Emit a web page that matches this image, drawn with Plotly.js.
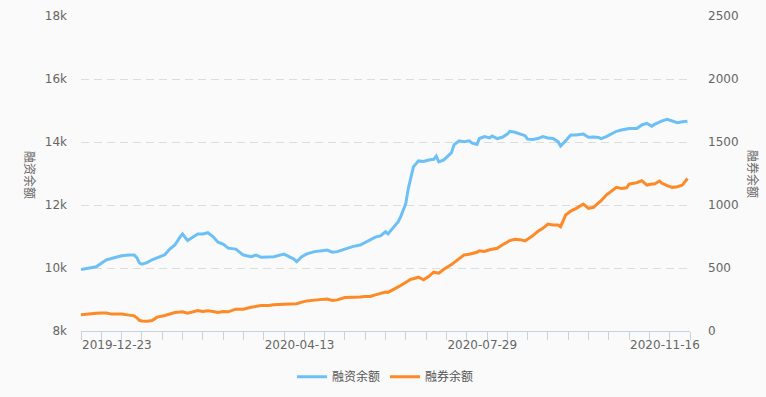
<!DOCTYPE html>
<html><head><meta charset="utf-8">
<script src="https://cdn.plot.ly/plotly-3.0.1.min.js"></script>
<style>html,body{margin:0;padding:0;background:#fafafa;} #chart{width:766px;height:397px;}</style>
</head><body><div id="chart"></div>
<script>
// sampled trading dates
const dates = [
'2019-12-23','2019-12-26','2019-12-31','2020-01-03','2020-01-07','2020-01-09','2020-01-15','2020-01-20','2020-01-22','2020-01-23',
'2020-02-03','2020-02-04','2020-02-06','2020-02-10','2020-02-12','2020-02-17','2020-02-19','2020-02-21','2020-02-25','2020-02-26',
'2020-02-28','2020-03-03','2020-03-05','2020-03-09','2020-03-11','2020-03-13','2020-03-17','2020-03-19','2020-03-23','2020-03-26',
'2020-03-31','2020-04-03','2020-04-08','2020-04-10','2020-04-15','2020-04-17','2020-04-23','2020-04-27','2020-04-29','2020-04-30',
'2020-05-07','2020-05-11','2020-05-14','2020-05-19','2020-05-21','2020-05-25','2020-05-27','2020-06-01','2020-06-04','2020-06-09',
'2020-06-11','2020-06-15','2020-06-17','2020-06-19','2020-06-23','2020-06-24','2020-06-30','2020-07-02','2020-07-03','2020-07-07',
'2020-07-08','2020-07-09','2020-07-10','2020-07-14','2020-07-16','2020-07-20','2020-07-22','2020-07-23','2020-07-24','2020-07-28',
'2020-07-30','2020-07-31','2020-08-03','2020-08-05','2020-08-07','2020-08-11','2020-08-12','2020-08-14','2020-08-17','2020-08-19',
'2020-08-21','2020-08-24','2020-08-26','2020-08-28','2020-09-01','2020-09-02','2020-09-04','2020-09-08','2020-09-10','2020-09-11',
'2020-09-15','2020-09-17','2020-09-21','2020-09-23','2020-09-25','2020-09-29','2020-09-30','2020-10-12','2020-10-14','2020-10-16',
'2020-10-20','2020-10-21','2020-10-23','2020-10-27','2020-10-29','2020-10-30','2020-11-03','2020-11-05','2020-11-09','2020-11-11',
'2020-11-13','2020-11-16','2020-11-19','2020-11-23','2020-11-25','2020-11-27','2020-11-30','2020-12-02','2020-12-03','2020-12-07',
'2020-12-09','2020-12-11','2020-12-15','2020-12-17'];
// 融资余额
const rzValues = [
9950,9990,10040,10150,10260,10300,10390,10410,10410,10330,
10160,10120,10170,10260,10330,10420,10600,10730,10980,11080,
10870,10980,11080,11080,11120,11000,10820,10760,10630,10600,
10410,10360,10410,10340,10360,10360,10440,10360,10280,10200,
10360,10450,10520,10550,10570,10500,10520,10600,10680,10730,
10810,10890,10980,11020,11150,11080,11260,11470,11630,12050,
12530,12850,13210,13400,13380,13430,13450,13550,13370,13430,
13580,13660,13910,14040,14010,14040,13970,13920,14110,14170,
14130,14190,14110,14150,14250,14340,14310,14250,14200,14090,
14080,14110,14170,14130,14110,14010,13870,14040,14220,14220,
14250,14250,14150,14160,14140,14110,14170,14250,14340,14380,
14400,14430,14430,14540,14590,14500,14560,14640,14670,14720,
14670,14610,14640,14660];
// 融券余额
const rqValues = [
128,136,141,142,142,134,134,126,120,105,
85,80,78,83,110,123,136,147,150,152,
142,155,163,155,160,155,147,155,152,173,
173,188,194,202,202,208,213,213,213,216,
229,239,245,253,253,242,247,266,266,269,
274,274,287,300,310,306,325,350,361,384,
398,411,415,427,406,432,467,463,459,490,
511,527,543,572,604,609,613,625,636,632,
645,651,657,683,704,718,728,725,715,728,
755,790,815,849,841,841,828,921,952,971,
1000,1008,974,982,1018,1034,1079,1111,1140,1132,
1137,1166,1177,1193,1158,1166,1166,1190,1172,1153,
1140,1145,1158,1210];
const seriesNames = ['融资余额','融券余额'];
const labelDates = ['2019-12-23','2020-04-13','2020-07-29','2020-11-16'];
const holidays = ['2020-01-01','2020-01-24','2020-01-27','2020-01-28','2020-01-29','2020-01-30','2020-01-31',
'2020-04-06','2020-05-01','2020-05-04','2020-05-05','2020-06-25','2020-06-26',
'2020-10-01','2020-10-02','2020-10-05','2020-10-06','2020-10-07','2020-10-08'];
const calStart = '2019-12-23', calEnd = '2020-12-18';

function tradingCalendar(start, end, hol) {
  const out = []; const hs = new Set(hol);
  const d = new Date(start + 'T00:00:00Z'); const e = new Date(end + 'T00:00:00Z');
  while (d <= e) {
    const wd = d.getUTCDay(); const s = d.toISOString().slice(0, 10);
    if (wd !== 0 && wd !== 6 && !hs.has(s)) out.push(s);
    d.setUTCDate(d.getUTCDate() + 1);
  }
  return out;
}
const calendar = tradingCalendar(calStart, calEnd, holidays);
const pos = {}; calendar.forEach((s, i) => { pos[s] = i; });
const xs = dates.map(s => pos[s]);
const tickIdx = []; for (let i = 0; i < calendar.length; i += 8) tickIdx.push(i);
const tickText = tickIdx.map(i => labelDates.includes(calendar[i]) ? calendar[i] : '');

const FONT = 'Noto Sans, Noto Sans CJK SC, sans-serif';
const TICKFONT = 'DejaVu Sans, Noto Sans CJK SC, sans-serif';
const axisCol = '#c5d3e3';
const traces = [
  {x: xs, y: rzValues, name: seriesNames[0], type: 'scatter', mode: 'lines', yaxis: 'y',
   line: {color: '#6cc0f6', width: 3}},
  {x: xs, y: rqValues, name: seriesNames[1], type: 'scatter', mode: 'lines', yaxis: 'y2',
   line: {color: '#fd8a26', width: 3}}
];
const layout = {
  width: 766, height: 397,
  paper_bgcolor: '#fafafa', plot_bgcolor: '#fafafa',
  margin: {l: 81, r: 76, t: 16, b: 66, autoexpand: false},
  font: {family: FONT, color: '#666', size: 12},
  showlegend: true,
  legend: {orientation: 'h', x: 0.5, xanchor: 'center', y: -0.145, yanchor: 'middle',
    font: {size: 12, color: '#555'}, bgcolor: 'rgba(0,0,0,0)'},
  xaxis: {range: [0, calendar.length - 1], tickmode: 'array', tickvals: tickIdx, ticktext: tickText,
    ticks: 'outside', ticklen: 8, tickcolor: axisCol, showline: true, linecolor: axisCol, linewidth: 1,
    showgrid: false, zeroline: false, tickfont: {family: TICKFONT, size: 12, color: '#666'},
    ticklabelposition: 'outside right', ticklabelstandoff: 3, automargin: false},
  yaxis: {range: [8000, 18000], dtick: 2000, tickformat: '~s', showgrid: true, gridcolor: '#dcdcdc',
    griddash: '8px,5px', zeroline: false, showline: false, ticks: '', ticklabelstandoff: 13,
    tickfont: {family: TICKFONT, size: 12, color: '#666'}, automargin: false},
  yaxis2: {range: [0, 2500], dtick: 500, overlaying: 'y', side: 'right', showgrid: false,
    zeroline: false, showline: false, ticks: '', ticklabelstandoff: 17,
    tickfont: {family: TICKFONT, size: 12, color: '#666'}, automargin: false},
  annotations: [
    {text: seriesNames[0], xref: 'paper', yref: 'paper', x: (30 - 81) / 609, y: (331 - 175) / 315,
     xanchor: 'center', yanchor: 'middle',
     showarrow: false, textangle: 90, font: {size: 12, color: '#666'}},
    {text: seriesNames[1], xref: 'paper', yref: 'paper', x: (753 - 81) / 609, y: (331 - 174) / 315,
     xanchor: 'center', yanchor: 'middle',
     showarrow: false, textangle: 90, font: {size: 12, color: '#666'}}
  ]
};
Plotly.newPlot('chart', traces, layout, {displayModeBar: false, staticPlot: true});
</script></body></html>
